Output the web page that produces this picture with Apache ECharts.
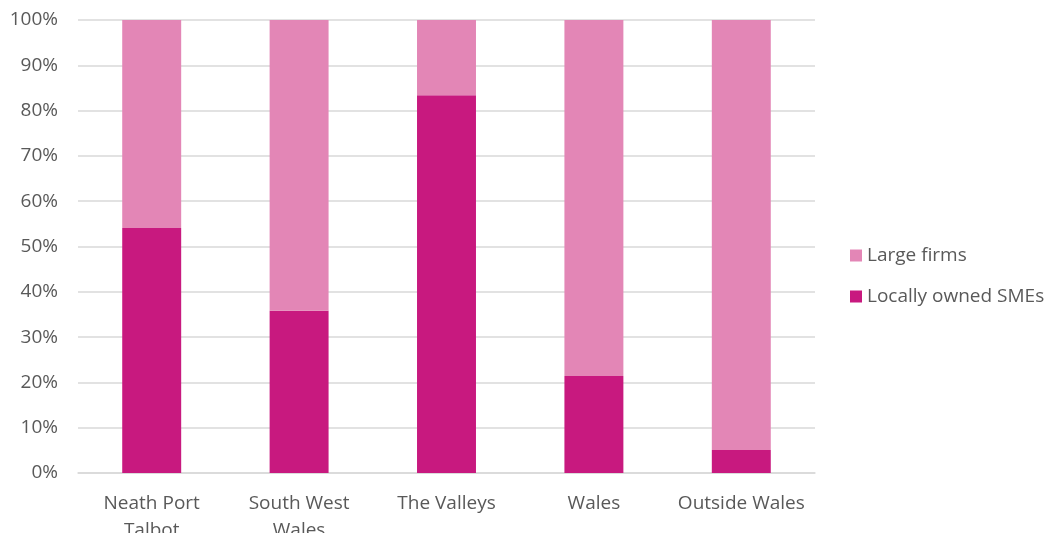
<!DOCTYPE html>
<html>
<head>
<meta charset="utf-8">
<script src="https://cdn.jsdelivr.net/npm/echarts@6/dist/echarts.min.js"></script>
<style>
html,body{margin:0;padding:0;background:#fff;}
#c{width:1048px;height:533px;}
</style>
</head>
<body>
<div id="c"></div>
<script>
const categories = ['Neath Port\nTalbot', 'South West\nWales', 'The Valleys', 'Wales', 'Outside Wales'];
const smeValues = [54.1, 35.8, 83.4, 21.4, 5.1];
const largeValues = [45.9, 64.2, 16.6, 78.6, 94.9];
const yTicks = [0, 10, 20, 30, 40, 50, 60, 70, 80, 90, 100];

const textColor = '#595959';
const font = '"Open Sans", sans-serif';

const chart = echarts.init(document.getElementById('c'), null, {renderer: 'canvas'});
chart.setOption({
  animation: false,
  backgroundColor: '#ffffff',
  grid: {left: 78, right: 233, top: 20, bottom: 60, containLabel: false, outerBoundsMode: 'none'},
  legend: {
    orient: 'vertical',
    left: 845,
    top: 241,
    itemWidth: 12,
    itemHeight: 12,
    itemGap: 22,
    icon: 'rect',
    data: ['Large firms', 'Locally owned SMEs'],
    textStyle: {color: textColor, fontSize: 19, fontFamily: font, padding: [0, 0, 0, 0]}
  },
  xAxis: {
    type: 'category',
    data: categories,
    axisLine: {show: true, lineStyle: {color: '#d9d9d9', width: 1.5}},
    axisTick: {show: false},
    axisLabel: {color: textColor, fontSize: 19, fontFamily: font, margin: 17, lineHeight: 27, interval: 0}
  },
  yAxis: {
    type: 'value',
    min: 0,
    max: 100,
    interval: 10,
    axisLine: {show: false},
    axisTick: {show: false},
    splitLine: {lineStyle: {color: '#d9d9d9', width: 1.5}},
    axisLabel: {
      color: textColor, fontSize: 19, fontFamily: font, margin: 20,
      formatter: v => yTicks.includes(v) ? v + '%' : ''
    }
  },
  series: [
    {
      name: 'Locally owned SMEs',
      type: 'bar',
      stack: 'total',
      barWidth: '40%',
      data: smeValues,
      itemStyle: {color: '#C8197F'}
    },
    {
      name: 'Large firms',
      type: 'bar',
      stack: 'total',
      barWidth: '40%',
      data: largeValues,
      itemStyle: {color: '#E386B6'}
    }
  ]
});
</script>
</body>
</html>
